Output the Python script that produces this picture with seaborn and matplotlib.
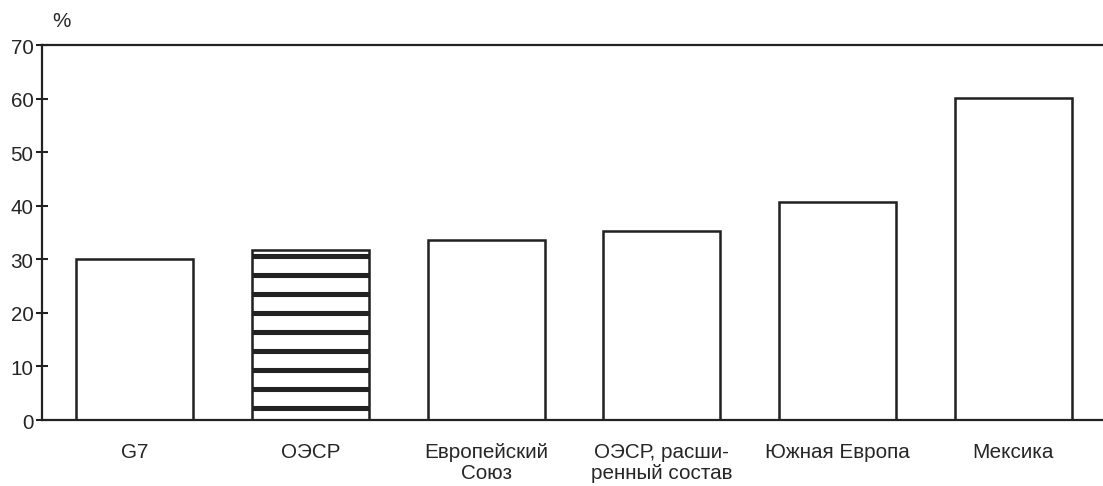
import numpy as np
import matplotlib
matplotlib.use('Agg')
import matplotlib.pyplot as plt
import pandas as pd
import seaborn as sns

# данные
categories = ['G7', 'ОЭСР', 'Европейский\nСоюз', 'ОЭСР, расши-\nренный состав', 'Южная Европа', 'Мексика']
values = [30.1, 31.8, 33.6, 35.3, 40.7, 60.1]
yticks = [0, 10, 20, 30, 40, 50, 60, 70]

sns.set_style('white')
plt.rcParams['font.family'] = ['Liberation Sans', 'DejaVu Sans']
plt.rcParams['hatch.linewidth'] = 3.2

DPI = 114
fig = plt.figure(figsize=(1103 / DPI, 487 / DPI), dpi=DPI)
ax = fig.add_axes([0.0381, 0.1355, 0.9619, 0.77])

df = pd.DataFrame({'cat': categories, 'val': values})
sns.barplot(data=df, x='cat', y='val', color='white', edgecolor='#222222',
            linewidth=1.6, width=0.667, saturation=1, ax=ax)

# штриховка для ОЭСР
ax.patches[1].set_hatch('-')

ax.set_xlim(-0.527, 5.51)
ax.set_ylim(0, 70)
ax.set_yticks(yticks)
ax.set_xlabel('')
ax.set_ylabel('')
ax.tick_params(axis='y', direction='inout', length=7, width=1.3, labelsize=13,
               left=True, color='#222222', pad=2)
ax.tick_params(axis='x', length=0, labelsize=13, pad=14)
for lbl in ax.get_xticklabels():
    lbl.set_linespacing(1.1)

for side in ['left', 'top', 'bottom']:
    ax.spines[side].set_color('#222222')
    ax.spines[side].set_linewidth(1.4)
ax.spines['right'].set_visible(False)

ax.text(0.01, 1.04, '%', transform=ax.transAxes, fontsize=13, ha='left', va='bottom')

fig.savefig('out.png', dpi=DPI)
